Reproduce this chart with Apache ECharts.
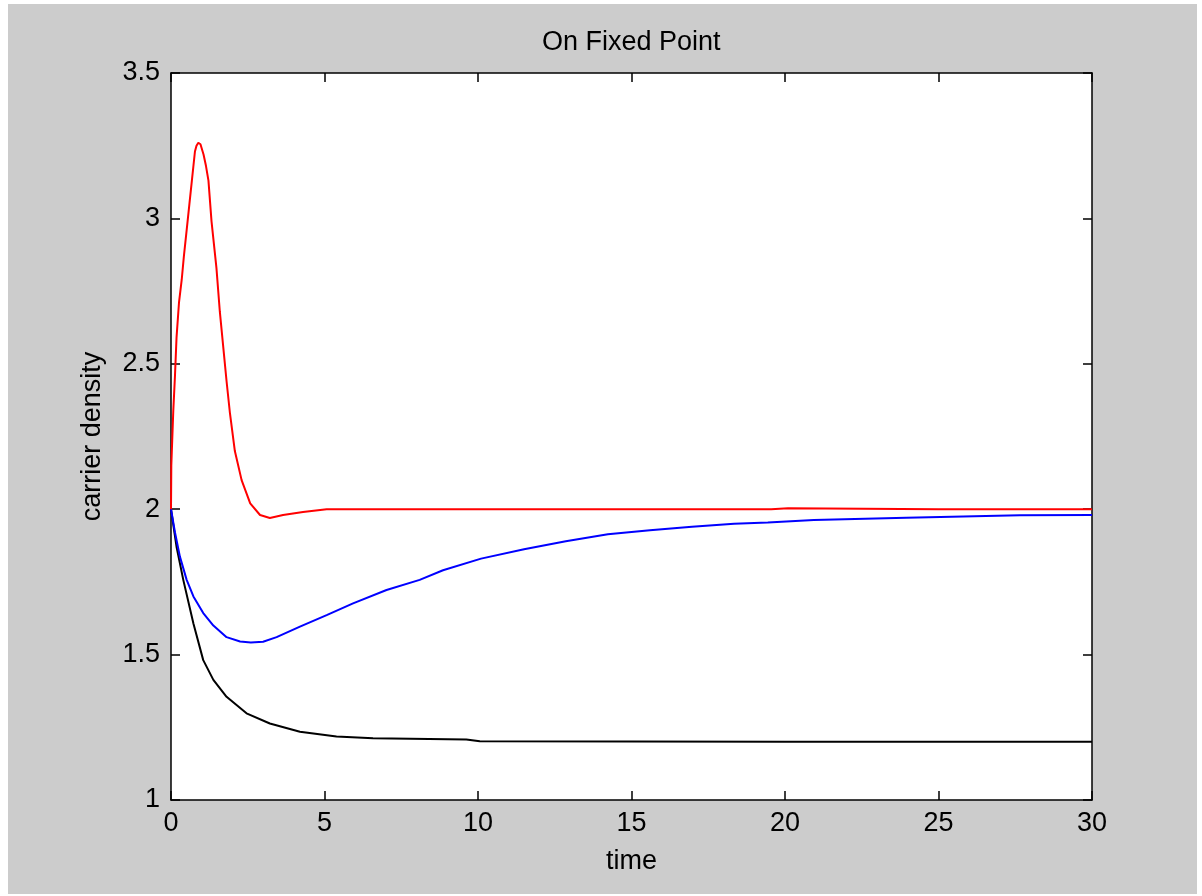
<!DOCTYPE html>
<html>
<head>
<meta charset="utf-8">
<script src="https://cdn.jsdelivr.net/npm/echarts@6/dist/echarts.min.js"></script>
<style>
  html, body { margin: 0; padding: 0; background: #fff; }
  #bg { position: absolute; left: 8px; top: 4px; width: 1189px; height: 890px; background: #cccccc; }
  #main { position: absolute; left: 0; top: 0; width: 1202px; height: 896px; }
</style>
</head>
<body>
<div id="bg"></div>
<div id="main"></div>
<script>
// values
const redT = [0, 0.01, 0.075, 0.13, 0.18, 0.26, 0.35, 0.42, 0.51, 0.60, 0.68, 0.78, 0.83, 0.89, 0.96, 1.06, 1.14, 1.22, 1.32, 1.48, 1.59, 1.70, 1.81, 1.92, 2.08, 2.30, 2.58, 2.90, 3.22, 3.65, 4.30, 5.07, 10, 15, 19.55, 19.6, 20.1, 20.15, 25, 30];
const redV = [2.0, 2.15, 2.34, 2.46, 2.59, 2.71, 2.79, 2.87, 2.96, 3.05, 3.13, 3.23, 3.25, 3.26, 3.255, 3.22, 3.18, 3.13, 2.99, 2.83, 2.68, 2.56, 2.44, 2.33, 2.20, 2.10, 2.02, 1.98, 1.97, 1.98, 1.99, 2.0, 2.0, 2.0, 2.0, 2.003, 2.003, 2.0, 2.0, 2.0];

const blueT = [0, 0.13, 0.29, 0.51, 0.73, 1.05, 1.38, 1.81, 2.25, 2.6, 3.0, 3.44, 4.2, 5.07, 5.93, 7.02, 8.1, 8.86, 10.1, 11.5, 12.86, 14.23, 15.6, 16.97, 18.34, 19.44, 20.94, 23.95, 27.65, 30];
const blueV = [2.0, 1.92, 1.837, 1.757, 1.70, 1.643, 1.60, 1.56, 1.545, 1.542, 1.544, 1.56, 1.596, 1.636, 1.676, 1.722, 1.757, 1.79, 1.83, 1.862, 1.89, 1.914, 1.928, 1.94, 1.95, 1.954, 1.963, 1.971, 1.979, 1.98];

const blackT = [0, 0.18, 0.4, 0.73, 1.05, 1.38, 1.81, 2.46, 3.22, 4.2, 5.39, 6.58, 9.62, 10.06, 15, 20, 30];
const blackV = [2.0, 1.871, 1.757, 1.607, 1.481, 1.413, 1.355, 1.298, 1.263, 1.235, 1.218, 1.212, 1.208, 1.202, 1.201, 1.2, 1.2];

const xTicks = { min: 0, max: 30, interval: 5 };
const yTicks = { min: 1, max: 3.5, interval: 0.5 };

const font = "'Liberation Sans', Arial, sans-serif";

function zip(ts, vs) {
  return ts.map((t, i) => [t, vs[i]]);
}

function axisBase(extra) {
  return Object.assign({
    type: 'value',
    axisLine: { show: true, onZero: false, lineStyle: { color: '#000', width: 1.5 } },
    axisTick: { show: true, inside: true, length: 9, lineStyle: { color: '#000', width: 1.5 } },
    splitLine: { show: false },
    axisLabel: { color: '#000', fontSize: 27, fontFamily: font }
  }, extra);
}

const chart = echarts.init(document.getElementById('main'));

const option = {
  backgroundColor: 'transparent',
  animation: false,
  title: {
    text: 'On Fixed Point',
    left: 537,
    top: 24,
    textStyle: { color: '#000', fontSize: 27, fontWeight: 'normal', fontFamily: font }
  },
  grid: {
    left: 171, top: 73, width: 921, height: 727,
    show: true, backgroundColor: '#fff', borderWidth: 0
  },
  xAxis: [
    axisBase(Object.assign({
      position: 'bottom',
      name: 'time',
      nameLocation: 'middle',
      nameGap: 48,
      nameTextStyle: { color: '#000', fontSize: 27, fontFamily: font },
      axisLabel: { color: '#000', fontSize: 27, fontFamily: font, margin: 10 }
    }, xTicks)),
    axisBase(Object.assign({ position: 'top', axisLabel: { show: false } }, xTicks))
  ],
  yAxis: [
    axisBase(Object.assign({
      position: 'left',
      name: 'carrier density',
      nameLocation: 'middle',
      nameGap: 65,
      nameRotate: 90,
      nameTextStyle: { color: '#000', fontSize: 27, fontFamily: font },
      axisLabel: { color: '#000', fontSize: 27, fontFamily: font, margin: 11 }
    }, yTicks)),
    axisBase(Object.assign({ position: 'right', axisLabel: { show: false } }, yTicks))
  ],
  series: [
    {
      type: 'line', data: zip(blackT, blackV), showSymbol: false,
      lineStyle: { color: '#000', width: 2 }
    },
    {
      type: 'line', data: zip(blueT, blueV), showSymbol: false,
      lineStyle: { color: '#0000ff', width: 2 }
    },
    {
      type: 'line', data: zip(redT, redV), showSymbol: false,
      lineStyle: { color: '#ff0000', width: 2 }
    }
  ]
};

chart.setOption(option);
</script>
</body>
</html>
